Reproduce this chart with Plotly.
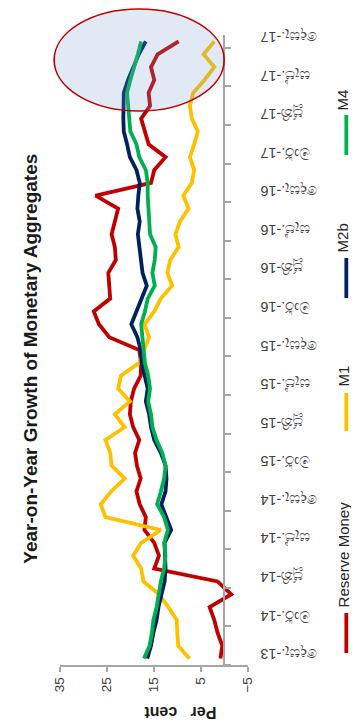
import plotly.graph_objects as go

# ---------------- data ----------------
sinhala_months = ["ජන.", "පෙබ.", "මාර්.", "අප්‍රේ.", "මැයි", "ජූනි",
                  "ජූලි", "අගෝ.", "සැප්.", "ඔක්.", "නොවැ.", "දෙසැ."]
# monthly categories Dec-2013 ... Dec-2017
months = [f"{sinhala_months[(11 + k) % 12]}-{13 + (11 + k) // 12}" for k in range(49)]

reserve_money = [0.8, 0.4, 1.4, 2.1, 3.1, -1.5, 1.4, 14.9, 13.9, 14.9, 17.0, 16.7,
                 18.0, 18.7, 17.8, 18.6, 19.0, 18.1, 19.4, 20.1, 19.9, 19.2, 17.8, 17.7,
                 18.1, 24.5, 26.7, 27.8, 24.3, 24.5, 24.7, 23.1, 23.3, 24.0, 23.3, 22.6,
                 27.4, 15.6, 14.9, 12.5, 16.1, 17.0, 17.7, 15.8, 16.1, 14.9, 15.6, 14.2,
                 9.7]
m1 = [7.4, 9.8, 10.0, 10.1, 11.9, 13.9, 17.2, 17.7, 19.4, 17.7, 13.5, 25.3,
      26.3, 24.1, 21.2, 24.0, 24.3, 25.3, 21.2, 23.3, 20.1, 22.6, 22.0, 18.1,
      17.1, 16.0, 17.0, 14.9, 13.5, 11.1, 12.1, 11.5, 9.7, 10.4, 9.4, 7.6,
      8.7, 6.9, 6.4, 7.3, 6.4, 5.6, 6.9, 7.3, 6.6, 4.2, 2.1, 4.4,
      2.1]
m2b = [16.4, 15.6, 15.1, 14.4, 14.0, 13.4, 12.7, 12.5, 12.5, 12.7, 11.3, 12.3,
       13.4, 12.5, 12.3, 12.5, 13.5, 14.9, 15.6, 16.0, 16.7, 16.3, 17.0, 17.6,
       17.8, 18.5, 19.8, 18.7, 17.7, 16.5, 17.4, 17.8, 18.0, 18.4, 18.0, 18.5,
       18.3, 18.0, 18.7, 20.1, 20.7, 21.4, 21.5, 21.5, 21.4, 20.5, 19.3, 18.2,
       16.7]
m4 = [17.1, 15.9, 15.4, 15.1, 14.4, 14.0, 13.5, 12.8, 12.5, 12.8, 12.0, 12.8,
      14.3, 13.5, 12.8, 12.5, 13.2, 14.4, 15.3, 15.6, 16.2, 15.8, 16.2, 16.9,
      17.1, 17.4, 17.7, 16.9, 16.3, 14.8, 15.3, 14.8, 14.6, 15.8, 16.0, 16.1,
      16.3, 16.3, 16.7, 18.1, 18.7, 20.0, 20.3, 20.6, 20.7, 20.0, 19.1, 18.4,
      17.7]

value_ticks = [35, 25, 15, 5, -5]
series_names = ["Reserve Money", "M1", "M2b", "M4"]
series_colors = ["#C00000", "#FFC000", "#002060", "#00B050"]
series_values = [reserve_money, m1, m2b, m4]

# ---------------- geometry helpers ----------------
W, H = 359, 720
ML, MR, MT, MB = 52, 0, 27, 63
PW, PH = W - ML - MR, H - MT - MB


def px(xp):
    return (xp - ML) / PW


def py(yp):
    return (H - MB - yp) / PH


FONT = "Liberation Sans, Arial, sans-serif"
AXIS_GREY = "#A6A6A6"
idx = list(range(len(months)))
tick_idx = idx[::3]
tick_text = [months[i] for i in tick_idx]

fig = go.Figure()
for name, vals, color in zip(series_names, series_values, series_colors):
    fig.add_trace(go.Scatter(
        x=vals, y=idx, mode="lines", name=name,
        line=dict(color=color, width=3.8),
        yaxis="y2" if name == "M4" else "y",
        showlegend=False, hoverinfo="skip",
    ))

yrange = [-0.5, len(months) - 0.5]

fig.update_layout(
    width=W, height=H,
    margin=dict(l=ML, r=MR, t=MT, b=MB),
    paper_bgcolor="white", plot_bgcolor="white",
    showlegend=False,
    xaxis=dict(
        domain=[0, px(244)], range=[35, -5], tickvals=value_ticks,
        showline=True, linecolor=AXIS_GREY, linewidth=1.5,
        ticks="outside", ticklen=5, tickcolor=AXIS_GREY, tickwidth=1.5,
        tickangle=-90, tickfont=dict(family=FONT, size=13.5, color="#404040"),
        showgrid=False, zeroline=False, anchor="y",
    ),
    yaxis=dict(
        range=yrange, anchor="free", position=px(257), side="left",
        showline=False, ticks="", tickvals=tick_idx, ticktext=tick_text,
        tickangle=180, tickfont=dict(family=FONT, size=14.5, color="#404040"),
        showgrid=False, zeroline=False,
    ),
    yaxis2=dict(
        range=yrange, overlaying="y", anchor="free", position=px(220), side="right",
        showline=True, linecolor=AXIS_GREY, linewidth=1.5,
        ticks="outside", ticklen=6, tickcolor=AXIS_GREY, tickwidth=1.5,
        tickvals=[i - 0.5 for i in tick_idx], showticklabels=False,
        showgrid=False, zeroline=False,
    ),
)

annotations = [
    dict(text="<b>Year-on-Year Growth of Monetary Aggregates</b>", x=px(22), y=py(351),
         textangle=-90, font=dict(family=FONT, size=19, color="#1a1a1a")),
    dict(text="<b>Per&nbsp;&nbsp;&nbsp;cent</b>", x=px(175), y=py(705), textangle=180,
         font=dict(family=FONT, size=16, color="#1a1a1a")),
]
legend_text_center = [546, 368, 230, 92]
legend_swatch = [(605, 645), (385, 423), (250, 290), (107, 147)]
shapes = []
for name, color, tc, (s0, s1) in zip(series_names, series_colors, legend_text_center, legend_swatch):
    annotations.append(dict(text=name, x=px(342), y=py(tc), textangle=-90,
                            font=dict(family=FONT, size=15, color="#262626")))
    shapes.append(dict(type="line", xref="paper", yref="paper",
                       x0=px(345), x1=px(345), y0=py(s1), y1=py(s0),
                       line=dict(color=color, width=3.8)))
for a in annotations:
    a.setdefault("xref", "paper")
    a.setdefault("yref", "paper")
    a.setdefault("showarrow", False)
    a.setdefault("xanchor", "center")
    a.setdefault("yanchor", "middle")

shapes.append(dict(type="circle", xref="paper", yref="paper",
                   x0=px(46), x1=px(220), y0=py(103), y1=py(1),
                   line=dict(color="#C00000", width=1.6),
                   fillcolor="rgba(120,155,210,0.22)", layer="above"))

fig.update_layout(annotations=annotations, shapes=shapes)
fig.write_html("out.html")
